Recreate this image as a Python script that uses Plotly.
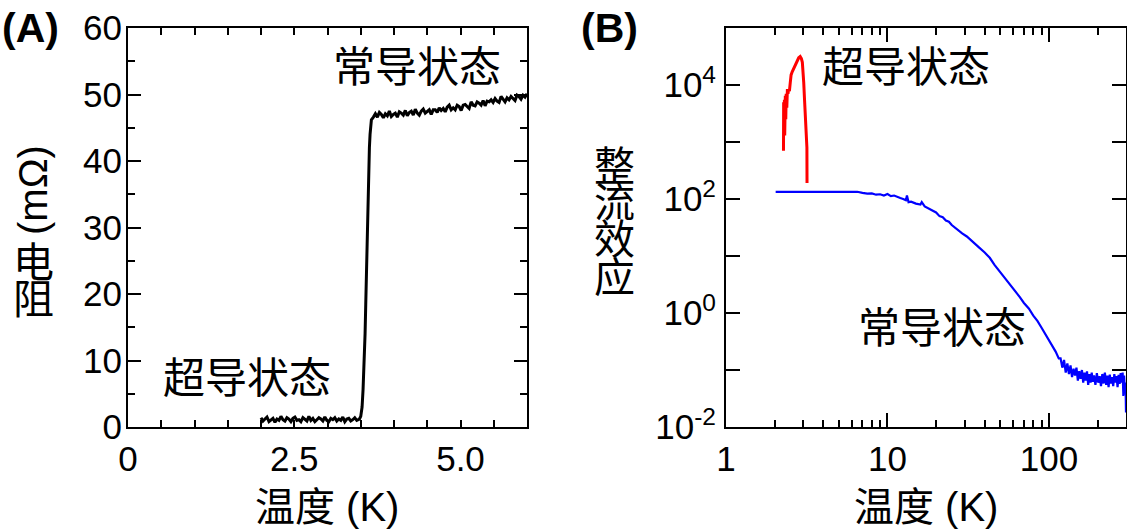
import plotly.graph_objects as go

# ---------------- data: panel A (resistance vs temperature) ----------------
tA_low = [2.00, 2.03, 2.06, 2.09, 2.12, 2.15, 2.18, 2.21, 2.24, 2.27, 2.30, 2.33, 2.36, 2.39,
          2.42, 2.45, 2.48, 2.51, 2.54, 2.57, 2.60, 2.63, 2.66, 2.69, 2.72, 2.75, 2.78, 2.81,
          2.84, 2.87, 2.90, 2.93, 2.96, 2.99, 3.02, 3.05, 3.08, 3.11, 3.14, 3.17, 3.20, 3.23,
          3.26, 3.29, 3.32, 3.35, 3.38, 3.41, 3.44, 3.47]
rA_low = [1.4, 0.9, 1.2, 1.5, 0.8, 1.1, 1.3, 0.7, 1.2, 1.0, 1.6, 1.1, 0.9, 1.4, 1.2, 0.8, 1.3,
          1.5, 1.0, 1.1, 0.8, 1.4, 1.2, 0.9, 1.6, 1.0, 1.3, 0.8, 1.1, 1.4, 1.2, 0.9, 1.5, 1.0,
          0.8, 1.3, 1.1, 1.4, 0.9, 1.2, 1.0, 1.5, 0.8, 1.2, 1.3, 0.9, 1.1, 1.4, 1.0, 1.2]
tA_jump = [3.48, 3.50, 3.52, 3.535, 3.55, 3.565, 3.575, 3.59, 3.60, 3.615, 3.63, 3.64, 3.66, 3.69]
rA_jump = [1.2, 1.6, 3.0, 5.7, 9.0, 14.0, 18.4, 26.0, 31.0, 37.0, 42.0, 44.0, 46.2, 46.6]
tA_high = [3.72, 3.75, 3.78, 3.81, 3.84, 3.87, 3.90, 3.93, 3.96, 3.99, 4.02, 4.05, 4.08, 4.11,
           4.14, 4.17, 4.20, 4.23, 4.26, 4.29, 4.32, 4.35, 4.38, 4.41, 4.44, 4.47, 4.50, 4.53,
           4.56, 4.59, 4.62, 4.65, 4.68, 4.71, 4.74, 4.77, 4.80, 4.83, 4.86, 4.89, 4.92, 4.95,
           4.98, 5.01, 5.04, 5.07, 5.10, 5.13, 5.16, 5.19, 5.22, 5.25, 5.28, 5.31, 5.34, 5.37,
           5.40, 5.43, 5.46, 5.49, 5.52, 5.55, 5.58, 5.61, 5.64, 5.67, 5.70, 5.73, 5.76, 5.79,
           5.82, 5.85, 5.88, 5.91, 5.94, 5.97, 6.00]
rA_high = [47.1, 46.6, 47.3, 47.0, 46.5, 47.1, 46.8, 47.5, 46.7, 47.0, 47.2, 46.6, 47.4, 47.2,
           46.9, 47.6, 46.8, 47.3, 47.5, 46.9, 47.8, 47.2, 46.9, 47.5, 47.8, 47.2, 47.4, 47.7,
           47.0, 47.7, 47.7, 47.3, 48.0, 47.6, 47.9, 47.4, 48.1, 48.4, 47.7, 48.0, 47.7, 48.4,
           48.2, 47.6, 48.4, 48.5, 48.2, 47.9, 48.9, 48.4, 48.3, 48.9, 48.7, 48.4, 49.1, 48.3,
           49.0, 48.9, 49.2, 48.8, 49.4, 49.0, 48.8, 49.7, 49.3, 48.9, 49.5, 49.2, 49.7, 49.4,
           49.1, 49.9, 49.7, 49.3, 49.9, 49.6, 50.1]

# ---------------- data: panel B (rectification vs temperature) ----------------
tB_red = [2.27, 2.275, 2.29, 2.30, 2.31, 2.33, 2.345, 2.36, 2.38, 2.40, 2.42, 2.44, 2.47, 2.50,
          2.53, 2.57, 2.62, 2.67, 2.72, 2.77, 2.82, 2.88, 2.93, 2.97, 3.00, 3.03, 3.06, 3.09,
          3.12, 3.15, 3.17, 3.175]
vB_red = [700, 5000, 1500, 5500, 1300, 6500, 2500, 7000, 4000, 8500, 7000, 8200, 7800, 11000,
          15000, 17000, 19000, 22000, 25000, 27500, 30000, 31500, 29000, 25000, 18000, 11000,
          6000, 3200, 2000, 1200, 800, 190]
tB_blue = [2.03, 2.5, 3, 4, 5, 6, 6.5, 7.0, 7.5, 8.0, 8.5, 9.0, 9.5, 10.0, 10.5, 11, 11.5, 12,
           12.5, 13.0, 13.2, 13.5, 14, 14.5, 15, 16, 16.3, 17, 18, 19, 20, 21, 22, 23, 24, 25,
           27, 29, 31, 33, 35, 37, 40, 43, 46, 49, 52, 55, 58, 62, 66, 70, 75, 80, 85, 90, 95,
           100, 105, 110, 115, 118, 121, 124, 127, 130, 133, 136, 139, 142, 145, 148, 151, 154,
           157, 160, 163, 166, 169, 172, 175, 178, 181, 184, 187, 190, 194, 198, 202, 206, 210,
           214, 218, 222, 226, 230, 234, 238, 242, 246, 250, 254, 258, 262, 266, 270, 274, 278,
           282, 286, 289, 292, 295, 298, 300]
vB_blue = [133, 133, 133, 133, 133, 133, 134, 128, 124, 125, 119, 121, 115, 122, 112, 115, 108,
           104, 100, 95, 115, 88, 90, 86, 83, 80, 88, 74, 68, 64, 58, 50, 48, 42, 40, 35, 29, 25,
           22, 19, 16, 14, 11.5, 9.3, 7.0, 5.6, 4.5, 3.6, 3.0, 2.4, 1.9, 1.5, 1.2, 0.9, 0.72,
           0.55, 0.42, 0.33, 0.27, 0.21, 0.16, 0.16, 0.11, 0.15, 0.09, 0.13, 0.085, 0.12, 0.075,
           0.105, 0.08, 0.11, 0.065, 0.095, 0.07, 0.10, 0.06, 0.09, 0.065, 0.095, 0.055, 0.085,
           0.06, 0.09, 0.062, 0.08, 0.055, 0.088, 0.06, 0.078, 0.052, 0.085, 0.058, 0.09, 0.055,
           0.08, 0.05, 0.083, 0.058, 0.075, 0.052, 0.085, 0.06, 0.078, 0.05, 0.082, 0.057, 0.088,
           0.06, 0.09, 0.035, 0.08, 0.04, 0.06, 0.018]

# ---------------- tick labels ----------------
xA_tickvals = [0, 2.5, 5.0]
xA_ticktext = ["0", "2.5", "5.0"]
yA_tickvals = [0, 10, 20, 30, 40, 50, 60]
xB_tickvals = [1, 10, 100]
xB_ticktext = ["1", "10", "100"]
yB_tickvals = [1e-2, 1e0, 1e2, 1e4]
yB_ticktext = ["10<sup>-2</sup>", "10<sup>0</sup>", "10<sup>2</sup>", "10<sup>4</sup>"]
yB_oddvals = [1e-1, 1e1, 1e3, 1e5]

W, H = 1127, 530
def fx(p):
    return p / W
def fy(p):
    return 1 - p / H

LAT = "Liberation Sans, Arial, sans-serif"
CJK = "Liberation Sans, Noto Sans CJK SC, sans-serif"

fig = go.Figure()
fig.add_trace(go.Scatter(x=tA_low + tA_jump + tA_high, y=rA_low + rA_jump + rA_high,
                         mode="lines", line=dict(color="black", width=3),
                         xaxis="x", yaxis="y", showlegend=False))
fig.add_trace(go.Scatter(x=tB_blue, y=vB_blue, mode="lines",
                         line=dict(color="#0000ff", width=2.2),
                         xaxis="x2", yaxis="y2", showlegend=False))
fig.add_trace(go.Scatter(x=tB_red, y=vB_red, mode="lines",
                         line=dict(color="#ff0000", width=3),
                         xaxis="x2", yaxis="y2", showlegend=False))

common = dict(showline=True, linecolor="black", linewidth=2, mirror="ticks",
              ticks="inside", tickcolor="black", tickwidth=2, showgrid=False,
              zeroline=False, automargin=False,
              tickfont=dict(family=LAT, size=35, color="black"))

fig.update_layout(
    width=W, height=H, margin=dict(l=0, r=0, t=0, b=0, autoexpand=False),
    paper_bgcolor="white", plot_bgcolor="white", showlegend=False,
    xaxis=dict(**common, domain=[fx(128), fx(527)], range=[0, 6], anchor="y",
               tickmode="array", tickvals=xA_tickvals, ticktext=xA_ticktext, ticklen=7,
               ticklabelstandoff=0,
               minor=dict(tickmode="array", tickvals=[0.5, 1, 1.5, 2, 3, 3.5, 4, 4.5, 5.5],
                          ticks="inside", ticklen=7, tickcolor="black", tickwidth=2,
                          showgrid=False)),
    yaxis=dict(**common, domain=[fy(427), fy(28)], range=[0, 60], anchor="x",
               tickmode="array", tickvals=yA_tickvals, ticklen=13, ticklabelstandoff=-3,
               minor=dict(tickmode="array", tickvals=[5, 15, 25, 35, 45, 55],
                          ticks="inside", ticklen=7, tickcolor="black", tickwidth=2,
                          showgrid=False)),
    xaxis2=dict(**common, type="log", domain=[fx(726), fx(1126)], range=[0, 2.4771],
                anchor="y2", tickmode="array", tickvals=xB_tickvals, ticktext=xB_ticktext,
                ticklen=14, ticklabelstandoff=0,
                minor=dict(tickmode="array",
                           tickvals=[2, 3, 4, 5, 6, 7, 8, 9, 20, 30, 40, 50, 60, 70, 80, 90, 200, 300],
                           ticks="inside", ticklen=7, tickcolor="black", tickwidth=2,
                           showgrid=False)),
    yaxis2=dict(**common, type="log", domain=[fy(427), fy(28)], range=[-2, 5], anchor="x2",
                tickmode="array", tickvals=yB_tickvals, ticktext=yB_ticktext, ticklen=14,
                ticklabelstandoff=1,
                minor=dict(tickmode="array", tickvals=yB_oddvals,
                           ticks="inside", ticklen=14, tickcolor="black", tickwidth=2,
                           showgrid=False)),
)

def ann(text, x, y, size=40, family=CJK, angle=0, bold=False):
    fig.add_annotation(text=("<b>%s</b>" % text) if bold else text,
                       x=fx(x), y=fy(y), xref="paper", yref="paper",
                       xanchor="center", yanchor="middle", showarrow=False,
                       textangle=angle, font=dict(family=family, size=size, color="black"))

ann("(A)", 30, 28, size=41, family=LAT, bold=True)
ann("(B)", 609, 28, size=41, family=LAT, bold=True)
ann("常导状态", 417, 68, size=42)
ann("超导状态", 247, 378, size=42)
ann("超导状态", 906, 68, size=42)
ann("常导状态", 942, 328, size=42)
ann("温度 (K)", 327, 507, size=40)
ann("温度 (K)", 926, 507, size=40)
ann("(mΩ)", 33, 190, size=40, angle=-90)
ann("电", 33, 263, size=41)
ann("阻", 33, 300, size=41)
for ch, yy in zip("整流效应", [167, 203, 240, 278]):
    ann(ch, 614, yy, size=41)

fig.write_html("out.html", config={"displayModeBar": False},
               post_script="document.body.style.margin='0px';")
